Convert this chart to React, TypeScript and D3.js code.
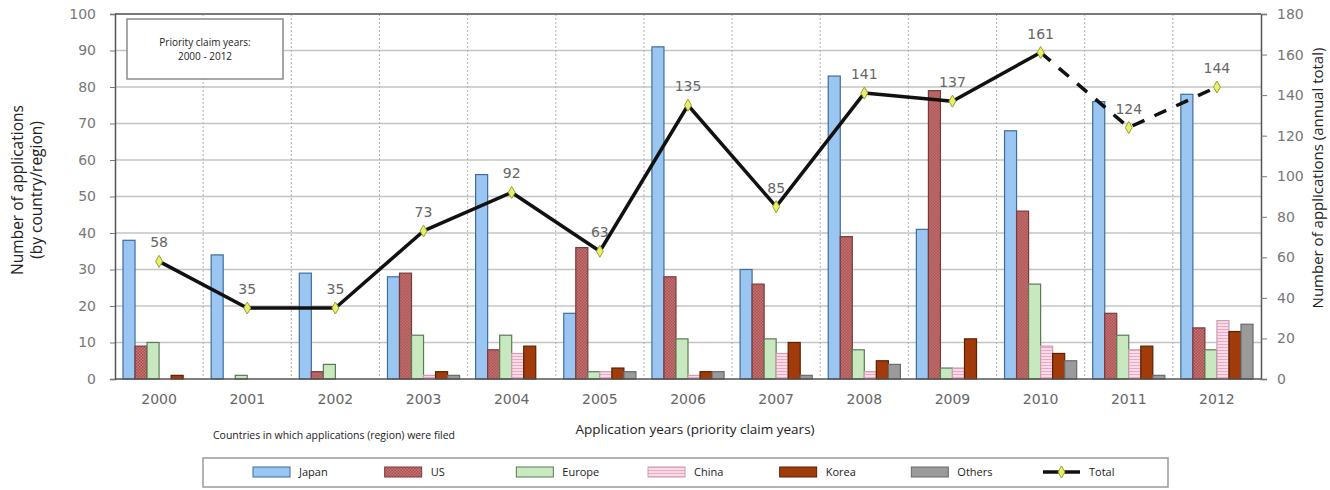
import React, { useEffect, useRef } from 'react';
import * as d3 from 'd3';

// categories (application years)
const years = ['2000', '2001', '2002', '2003', '2004', '2005', '2006', '2007', '2008', '2009', '2010', '2011', '2012'];
const seriesNames = ['Japan', 'US', 'Europe', 'China', 'Korea', 'Others'];

// per country/region values
const japan = [38, 34, 29, 28, 56, 18, 91, 30, 83, 41, 68, 76, 78];
const us = [9, 0, 2, 29, 8, 36, 28, 26, 39, 79, 46, 18, 14];
const europe = [10, 1, 4, 12, 12, 2, 11, 11, 8, 3, 26, 12, 8];
const china = [0, 0, 0, 1, 7, 2, 1, 7, 2, 3, 9, 8, 16];
const korea = [1, 0, 0, 2, 9, 3, 2, 10, 5, 11, 7, 9, 13];
const others = [0, 0, 0, 1, 0, 2, 2, 1, 4, 0, 5, 1, 15];
// annual totals (right axis)
const totals = [58, 35, 35, 73, 92, 63, 135, 85, 141, 137, 161, 124, 144];

const leftTicks = [0, 10, 20, 30, 40, 50, 60, 70, 80, 90, 100];
const rightTicks = [0, 20, 40, 60, 80, 100, 120, 140, 160, 180];

const fills: Record<string, string> = {
  Japan: '#9cc6f2',
  US: 'url(#pat-us)',
  Europe: '#c8e8bf',
  China: 'url(#pat-cn)',
  Korea: '#a23b0c',
  Others: '#9a9a9a',
};
const strokes: Record<string, string> = {
  Japan: '#3d6d9e',
  US: '#7a3a3a',
  Europe: '#5c7a55',
  China: '#c9a0b0',
  Korea: '#5a2000',
  Others: '#6a6a6a',
};

const App = () => {
  const ref = useRef<SVGSVGElement>(null);

  useEffect(() => {
    const svg = d3.select(ref.current);
    svg.selectAll('*').remove();

    const left = 115, right = 1261, top = 14, bottom = 379;
    const values = [japan, us, europe, china, korea, others];

    const x0 = d3.scaleBand().domain(years).range([left, right]).padding(0);
    const x1 = d3.scaleBand().domain(seriesNames).range([8, x0.bandwidth() - 8]).padding(0);
    const y = d3.scaleLinear().domain([0, 100]).range([bottom, top]);
    const y2 = d3.scaleLinear().domain([0, 180]).range([bottom, top]);

    const defs = svg.append('defs');
    const pu = defs.append('pattern').attr('id', 'pat-us').attr('patternUnits', 'userSpaceOnUse')
      .attr('width', 3).attr('height', 3);
    pu.append('rect').attr('width', 3).attr('height', 3).attr('fill', '#c97a7a');
    pu.append('rect').attr('width', 1.5).attr('height', 1.5).attr('fill', '#a54b4b');
    pu.append('rect').attr('x', 1.5).attr('y', 1.5).attr('width', 1.5).attr('height', 1.5).attr('fill', '#a54b4b');
    const pc = defs.append('pattern').attr('id', 'pat-cn').attr('patternUnits', 'userSpaceOnUse')
      .attr('width', 4).attr('height', 3);
    pc.append('rect').attr('width', 4).attr('height', 3).attr('fill', '#fbdbe8');
    pc.append('rect').attr('y', 2).attr('width', 4).attr('height', 1).attr('fill', '#eaa9c4');

    svg.append('rect').attr('width', 1330).attr('height', 490).attr('fill', '#fff');

    // gridlines
    const grid = svg.append('g');
    grid.selectAll('line.h').data(leftTicks.slice(1, -1)).enter().append('line')
      .attr('x1', left).attr('x2', right).attr('y1', (d) => y(d)).attr('y2', (d) => y(d))
      .attr('stroke', '#c4c4c4').attr('stroke-width', 1.5);
    grid.selectAll('line.v').data(years.slice(1)).enter().append('line')
      .attr('x1', (d) => x0(d)!).attr('x2', (d) => x0(d)!).attr('y1', top).attr('y2', bottom)
      .attr('stroke', '#b0b0b0').attr('stroke-dasharray', '2,2');
    grid.append('line').attr('x1', left).attr('x2', right).attr('y1', top).attr('y2', top)
      .attr('stroke', '#7a7a7a').attr('stroke-width', 2);

    // note box
    svg.append('rect').attr('x', 127).attr('y', 19).attr('width', 156).attr('height', 60)
      .attr('fill', '#fff').attr('stroke', '#8a8a8a').attr('stroke-width', 1.5);
    const note = svg.append('text').attr('x', 205).attr('text-anchor', 'middle')
      .attr('font-family', 'Open Sans, sans-serif').attr('font-size', 10).attr('fill', '#222');
    note.append('tspan').attr('x', 205).attr('y', 46).text('Priority claim years:');
    note.append('tspan').attr('x', 205).attr('y', 60).text('2000 - 2012');

    // bars
    const groups = svg.append('g').selectAll('g').data(years).enter().append('g')
      .attr('transform', (d) => `translate(${x0(d)},0)`);
    groups.selectAll('rect').data((_, i) => seriesNames.map((s, k) => ({ s, v: values[k][i] })))
      .enter().append('rect')
      .attr('x', (d) => x1(d.s)!)
      .attr('y', (d) => y(d.v))
      .attr('width', x1.bandwidth())
      .attr('height', (d) => bottom - y(d.v))
      .attr('fill', (d) => fills[d.s])
      .attr('stroke', (d) => strokes[d.s])
      .attr('stroke-width', (d) => (d.v > 0 ? 1.2 : 0));

    // axes
    const yl = svg.append('g').attr('transform', `translate(${left},0)`)
      .call(d3.axisLeft(y).tickValues(leftTicks).tickSize(5).tickPadding(14));
    const yr = svg.append('g').attr('transform', `translate(${right},0)`)
      .call(d3.axisRight(y2).tickValues(rightTicks).tickSize(6).tickPadding(10));
    [yl, yr].forEach((g) => {
      g.select('.domain').attr('stroke', '#555').attr('stroke-width', 1.5);
      g.selectAll('.tick line').attr('stroke', '#777');
      g.selectAll('.tick text').attr('fill', '#777').attr('font-size', 14)
        .attr('font-family', 'DejaVu Sans, sans-serif');
    });
    svg.append('line').attr('x1', left).attr('x2', right).attr('y1', bottom).attr('y2', bottom)
      .attr('stroke', '#555').attr('stroke-width', 1.5);
    const xa = svg.append('g').attr('transform', `translate(0,${bottom})`)
      .call(d3.axisBottom(x0).tickSize(0).tickPadding(15));
    xa.select('.domain').remove();
    xa.selectAll('.tick text').attr('fill', '#666').attr('font-size', 14)
      .attr('font-family', 'DejaVu Sans, sans-serif');

    // total line
    const pts = years.map((yr, i) => ({ x: x0(yr)! + x0.bandwidth() / 2, y: y2(totals[i]), v: totals[i] }));
    const line = d3.line<{ x: number; y: number }>().x((d) => d.x).y((d) => d.y);
    svg.append('path').attr('d', line(pts.slice(0, 11))).attr('fill', 'none')
      .attr('stroke', '#111').attr('stroke-width', 3.5).attr('stroke-linejoin', 'round');
    svg.append('path').attr('d', line(pts.slice(10))).attr('fill', 'none')
      .attr('stroke', '#111').attr('stroke-width', 3.5).attr('stroke-dasharray', '13,11');
    const sym = d3.symbol().type(d3.symbolDiamond).size(42);
    svg.append('g').selectAll('path').data(pts).enter().append('path')
      .attr('transform', (d) => `translate(${d.x},${d.y})`)
      .attr('d', sym()!)
      .attr('fill', '#e8ef6a').attr('stroke', '#9aa030').attr('stroke-width', 1);
    svg.append('g').selectAll('text').data(pts).enter().append('text')
      .attr('x', (d) => d.x).attr('y', (d) => d.y - 14)
      .attr('text-anchor', 'middle').attr('font-size', 14)
      .attr('font-family', 'DejaVu Sans, sans-serif').attr('fill', '#666')
      .text((d) => d.v);

    // axis titles
    const titleFont = 'Open Sans, sans-serif';
    svg.append('text').attr('transform', 'translate(23,190) rotate(-90)').attr('text-anchor', 'middle')
      .attr('font-family', titleFont).attr('font-size', 15.5).attr('fill', '#222').text('Number of applications');
    svg.append('text').attr('transform', 'translate(42,190) rotate(-90)').attr('text-anchor', 'middle')
      .attr('font-family', titleFont).attr('font-size', 15.5).attr('fill', '#222').text('(by country/region)');
    svg.append('text').attr('transform', 'translate(1323,178) rotate(-90)').attr('text-anchor', 'middle')
      .attr('font-family', titleFont).attr('font-size', 15).attr('fill', '#222')
      .text('Number of applications (annual total)');
    svg.append('text').attr('x', 695).attr('y', 434).attr('text-anchor', 'middle')
      .attr('font-family', titleFont).attr('font-size', 13.5).attr('fill', '#222')
      .text('Application years (priority claim years)');
    svg.append('text').attr('x', 213).attr('y', 439)
      .attr('font-family', 'Liberation Sans Narrow, Open Sans, sans-serif').attr('font-size', 10.5)
      .attr('textLength', 242).attr('fill', '#222')
      .text('Countries in which applications (region) were filed');

    // legend
    const lg = svg.append('g');
    lg.append('rect').attr('x', 203).attr('y', 458).attr('width', 965).attr('height', 29)
      .attr('fill', '#fff').attr('stroke', '#999').attr('stroke-width', 1.5);
    const legendItems = [...seriesNames, 'Total'];
    const lx = d3.scalePoint().domain(legendItems).range([253, 1043]);
    legendItems.forEach((name) => {
      const gx = lx(name)!;
      if (name === 'Total') {
        lg.append('line').attr('x1', gx).attr('x2', gx + 37).attr('y1', 472).attr('y2', 472)
          .attr('stroke', '#111').attr('stroke-width', 3.5);
        lg.append('path').attr('transform', `translate(${gx + 18.5},472)`).attr('d', sym()!)
          .attr('fill', '#e8ef6a').attr('stroke', '#9aa030');
      } else {
        lg.append('rect').attr('x', gx).attr('y', 467).attr('width', 37).attr('height', 10)
          .attr('fill', fills[name]).attr('stroke', strokes[name]).attr('stroke-width', 1);
      }
      lg.append('text').attr('x', gx + 46).attr('y', 476)
        .attr('font-family', 'Liberation Sans Narrow, Open Sans, sans-serif').attr('font-size', 11)
        .attr('fill', '#222').text(name);
    });
  }, []);

  return (
    <svg ref={ref} width={1330} height={490} style={{ position: 'absolute', left: 0, top: 0 }} />
  );
};

export default App;
